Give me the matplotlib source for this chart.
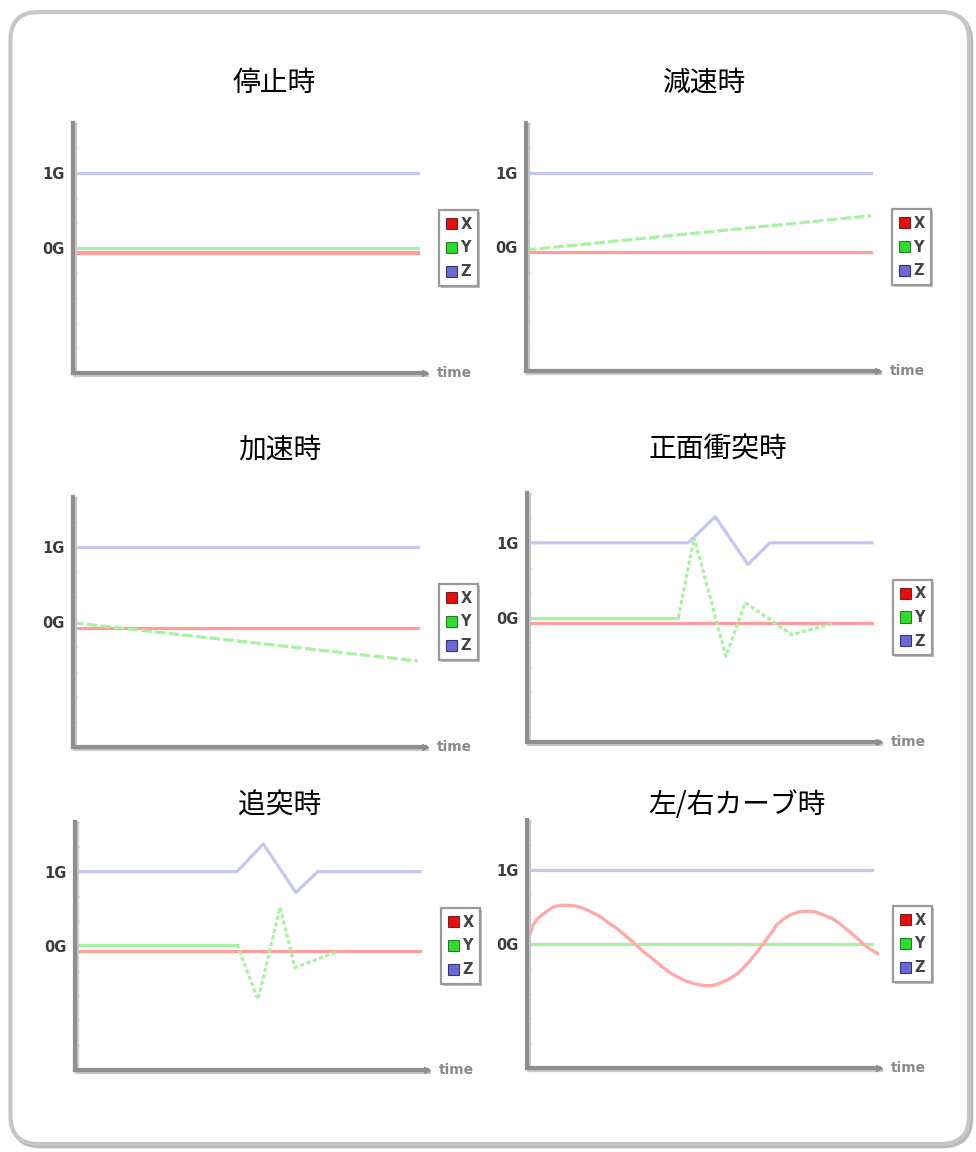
import numpy as np
import matplotlib
matplotlib.use("Agg")
import matplotlib.pyplot as plt
from matplotlib.patches import FancyBboxPatch, Patch
import matplotlib.patheffects as pe

plt.rcParams['font.family'] = ['Noto Sans CJK JP', 'DejaVu Sans']

# ---------------- data ----------------
titles = ["停止時", "減速時", "加速時", "正面衝突時", "追突時", "左/右カーブ時"]
series_names = ["X", "Y", "Z"]
ytick_labels = {0.0: "0G", 1.0: "1G"}

t_flat = [0.0, 3.92]

# 停止時
stop_x = [-0.07, -0.07]
stop_y = [0.0, 0.0]
stop_z = [1.0, 1.0]

# 減速時
decel_x = [-0.07, -0.07]
decel_y = [-0.04, 0.42]
decel_z = [1.0, 1.0]

# 加速時
accel_x = [-0.08, -0.08]
accel_y = [-0.01, -0.52]
accel_z = [1.0, 1.0]

# 正面衝突時
front_x = [-0.08, -0.08]
front_t_y = [0.0, 1.72, 1.90, 2.26, 2.48, 3.01, 3.48]
front_y = [0.0, 0.0, 1.07, -0.52, 0.20, -0.23, -0.08]
front_t_z = [0.0, 1.83, 2.14, 2.51, 2.76, 3.92]
front_z = [1.0, 1.0, 1.35, 0.71, 1.0, 1.0]

# 追突時
rear_x = [-0.07, -0.07]
rear_t_y = [0.0, 1.84, 2.08, 2.33, 2.50, 2.99]
rear_y = [0.02, 0.02, -0.72, 0.52, -0.29, -0.07]
rear_t_z = [0.0, 1.84, 2.14, 2.51, 2.76, 3.92]
rear_z = [1.0, 1.0, 1.37, 0.72, 1.0, 1.0]

# 左/右カーブ時
curve_t = [0.0, 0.04, 0.07, 0.12, 0.19, 0.25, 0.30, 0.38, 0.47, 0.55, 0.64, 0.73, 0.83,
           0.92, 1.02, 1.12, 1.23, 1.33, 1.44, 1.53, 1.63, 1.72, 1.81, 1.92, 2.02, 2.10,
           2.19, 2.28, 2.38, 2.46, 2.53, 2.61, 2.69, 2.77, 2.84, 2.92, 2.99, 3.08, 3.18,
           3.28, 3.37, 3.47, 3.56, 3.64, 3.71, 3.77, 3.82, 3.90, 3.99]
curve_x = [0.0, 0.15, 0.26, 0.34, 0.41, 0.46, 0.50, 0.52, 0.52, 0.51, 0.48, 0.43, 0.37,
           0.29, 0.21, 0.11, 0.0, -0.11, -0.21, -0.30, -0.39, -0.45, -0.50, -0.54, -0.56,
           -0.56, -0.53, -0.48, -0.41, -0.32, -0.23, -0.11, 0.01, 0.14, 0.26, 0.34, 0.39,
           0.43, 0.44, 0.43, 0.39, 0.34, 0.27, 0.19, 0.12, 0.06, 0.0, -0.07, -0.13]
curve_y = [0.0, 0.0]
curve_z = [1.0, 1.0]

# ---------------- style ----------------
C_X = "#ff9c9c"
C_Y = "#a8f2a2"
C_Z = "#c6c6f3"
LEG_COLORS = ["#e21010", "#2fdc2f", "#6a6ad2"]
LEG_EDGES = ["#7a2020", "#2a7a2a", "#35357a"]
AX_COLOR = "#8e8e8e"

W, H = 976, 1152
fig = plt.figure(figsize=(W / 100, H / 100), dpi=100)

# background + rounded border
bg = fig.add_axes([0, 0, 1, 1], zorder=-5)
bg.set_xlim(0, W)
bg.set_ylim(H, 0)
bg.axis("off")
bg.add_patch(FancyBboxPatch((12.5, 14), W - 12.5 - 5, H - 14 - 6,
                            boxstyle="round,pad=0,rounding_size=28",
                            facecolor="none", edgecolor="#b8b8b8", lw=3.2))
bg.add_patch(FancyBboxPatch((10.5, 12), W - 10.5 - 7, H - 12 - 8,
                            boxstyle="round,pad=0,rounding_size=28",
                            facecolor="white", edgecolor="#c6c6c6", lw=3.0))

# panel geometry in pixels: left, top, width, height
geoms = [
    (73, 123, 352, 250),
    (526, 123, 352, 248),
    (73, 497, 352, 250),
    (527, 493, 352, 249),
    (75, 822, 352, 248),
    (527, 820, 352, 248),
]
title_pos = [(274, 83), (705, 83), (280, 450), (718, 450), (280, 806), (737, 805)]

YLIM = (-5 / 3, 5 / 3)
minor_ticks = np.linspace(YLIM[0], YLIM[1], 11)

shadow = [pe.SimpleLineShadow(offset=(1.2, -1.2), shadow_color="#c8c8c8", alpha=1.0), pe.Normal()]

axes = []
for (l, t, w, h), title, (tx, ty) in zip(geoms, titles, title_pos):
    ax = fig.add_axes([l / W, 1 - (t + h) / H, w / W, h / H])
    ax.set_xlim(0, 4)
    ax.set_ylim(*YLIM)
    ax.patch.set_alpha(0)
    for s in ["top", "right"]:
        ax.spines[s].set_visible(False)
    for s in ["left", "bottom"]:
        ax.spines[s].set_color(AX_COLOR)
        ax.spines[s].set_linewidth(3.0)
        ax.spines[s].set_path_effects(shadow)
    ax.set_yticks(list(ytick_labels.keys()))
    ax.set_yticklabels(list(ytick_labels.values()), family="DejaVu Sans",
                       fontweight="bold", fontsize=10.5, color="#3c3c3c")
    ax.set_yticks(minor_ticks, minor=True)
    ax.tick_params(axis="y", which="both", direction="in", length=3, width=1,
                   color="#b0b0b0", pad=6)
    ax.set_xticks([1, 2, 3])
    ax.set_xticklabels([])
    ax.tick_params(axis="x", direction="inout", length=3, width=1.2, color="#505050")
    ax.plot([1.0], [0.0], marker=">", markersize=5, color=AX_COLOR,
            transform=ax.transAxes, clip_on=False, zorder=5)
    ax.text(1.0 + 12 / w, 0.0, "time", transform=ax.transAxes, ha="left", va="center",
            family="DejaVu Sans", fontweight="bold", fontsize=10, color="#8a8a8a")
    handles = [Patch(facecolor=fc, edgecolor=ec, lw=0.8) for fc, ec in zip(LEG_COLORS, LEG_EDGES)]
    leg = ax.legend(handles, series_names, loc="center left", bbox_to_anchor=(1.04, 0.5),
                    frameon=True, fancybox=False, shadow=False, framealpha=1.0,
                    handlelength=0.8, handleheight=0.8, handletextpad=0.2,
                    labelspacing=0.6, borderpad=0.45, borderaxespad=0,
                    prop={"family": "DejaVu Sans", "weight": "bold", "size": 10.5})
    for txt in leg.get_texts():
        txt.set_color("#444444")
    frame = leg.get_frame()
    frame.set_facecolor("white")
    frame.set_edgecolor("#9a9a9a")
    frame.set_linewidth(1.6)
    frame.set_path_effects([pe.SimplePatchShadow(offset=(1.5, -1.5), shadow_rgbFace="#bdbdbd", alpha=1.0), pe.Normal()])
    fig.text(tx / W, 1 - ty / H, title, ha="center", va="center", fontsize=20, color="black")
    axes.append(ax)

LW = 2.3
dash_long = (0, (3.3, 1.0))
dash_dot = (0, (1.3, 0.8))

# 停止時
ax = axes[0]
ax.plot(t_flat, stop_z, color=C_Z, lw=LW)
ax.plot(t_flat, stop_y, color=C_Y, lw=LW)
ax.plot(t_flat, stop_x, color=C_X, lw=3.0)

# 減速時
ax = axes[1]
ax.plot(t_flat, decel_z, color=C_Z, lw=LW)
ax.plot(t_flat, decel_x, color=C_X, lw=LW)
ax.plot(t_flat, decel_y, color=C_Y, lw=LW, linestyle=dash_long)

# 加速時
ax = axes[2]
ax.plot(t_flat, accel_z, color=C_Z, lw=LW)
ax.plot(t_flat, accel_x, color=C_X, lw=LW)
ax.plot(t_flat, accel_y, color=C_Y, lw=LW, linestyle=dash_long)

# 正面衝突時
ax = axes[3]
ax.plot(front_t_z, front_z, color=C_Z, lw=LW)
ax.plot(t_flat, front_x, color=C_X, lw=LW)
ax.plot(front_t_y[:2], front_y[:2], color=C_Y, lw=LW)
ax.plot(front_t_y[1:], front_y[1:], color=C_Y, lw=LW, linestyle=dash_dot)

# 追突時
ax = axes[4]
ax.plot(rear_t_z, rear_z, color=C_Z, lw=LW)
ax.plot(t_flat, rear_x, color=C_X, lw=LW)
ax.plot(rear_t_y[:2], rear_y[:2], color=C_Y, lw=LW)
ax.plot(rear_t_y[1:], rear_y[1:], color=C_Y, lw=LW, linestyle=dash_dot)

# 左/右カーブ時
ax = axes[5]
ax.plot(t_flat, curve_z, color=C_Z, lw=LW)
ax.plot(t_flat, curve_y, color=C_Y, lw=LW)
ax.plot(curve_t, curve_x, color="#ffaaaa", lw=2.4, solid_joinstyle="round")

fig.savefig("out.png", dpi=100)
